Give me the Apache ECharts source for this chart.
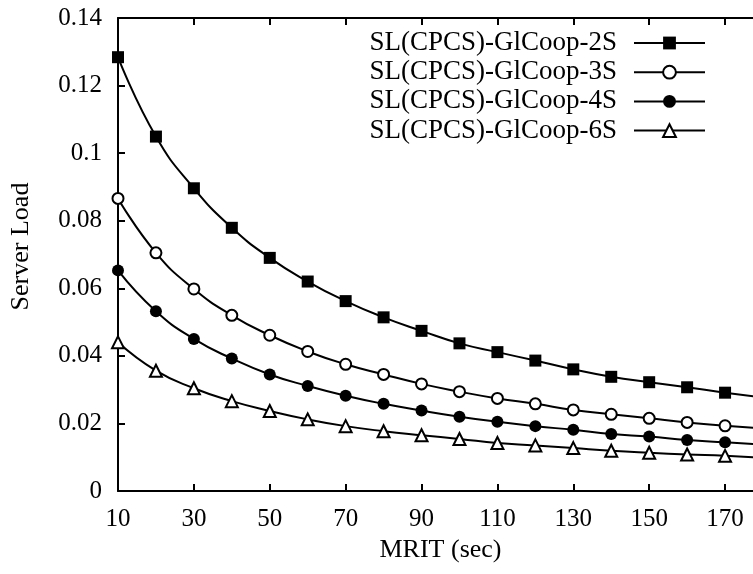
<!DOCTYPE html>
<html>
<head>
<meta charset="utf-8">
<script src="https://cdn.jsdelivr.net/npm/echarts@6/dist/echarts.min.js"></script>
<style>
html,body{margin:0;padding:0;background:#fff;}
#c{width:753px;height:574px;}
</style>
</head>
<body>
<div id="c"></div>
<script>
var mrit = [10,20,30,40,50,60,70,80,90,100,110,120,130,140,150,160,170,180];
var sl2S = [0.1284,0.1049,0.0896,0.0779,0.0690,0.0620,0.0562,0.0514,0.0474,0.0437,0.0411,0.0386,0.0360,0.0338,0.0322,0.0307,0.0291,0.0277];
var sl3S = [0.0866,0.0705,0.0598,0.0520,0.0461,0.0413,0.0375,0.0345,0.0317,0.0294,0.0274,0.0258,0.0240,0.0227,0.0215,0.0203,0.0193,0.0186];
var sl4S = [0.0653,0.0532,0.0450,0.0392,0.0345,0.0311,0.0282,0.0258,0.0238,0.0220,0.0205,0.0192,0.0181,0.0169,0.0161,0.0151,0.0144,0.0137];
var sl6S = [0.0440,0.0356,0.0304,0.0266,0.0237,0.0212,0.0192,0.0177,0.0165,0.0154,0.0142,0.0135,0.0127,0.0119,0.0113,0.0108,0.0104,0.0098];
var seriesNames = ['SL(CPCS)-GlCoop-2S','SL(CPCS)-GlCoop-3S','SL(CPCS)-GlCoop-4S','SL(CPCS)-GlCoop-6S'];
var yTicks = ['0','0.02','0.04','0.06','0.08','0.1','0.12','0.14'];

var FONT = 'Liberation Serif';
function pairs(arr){ return mrit.map(function(x,i){ return [x, arr[i]]; }); }
function mk(name, data, symbol, size){
  return {
    name: name, type: 'line', data: pairs(data),
    smooth: 0.5,
    symbol: symbol, symbolSize: size, showSymbol: true,
    lineStyle: {color: '#000', width: 2},
    itemStyle: {color: '#000', borderColor: '#000', borderWidth: (symbol.indexOf('empty') === 0 ? 2 : 0)},
    emphasis: {disabled: true},
    animation: false
  };
}
var chart = echarts.init(document.getElementById('c'), null, {renderer: 'canvas'});
chart.setOption({
  backgroundColor: '#fff',
  animation: false,
  textStyle: {fontFamily: FONT, color: '#000'},
  grid: {left: 118, top: 18, bottom: 83, right: -10, containLabel: false, outerBoundsMode: 'none'},
  legend: {
    orient: 'vertical', align: 'right', right: 42, top: 24.5,
    itemWidth: 71, itemHeight: 16, itemGap: 2.2,
    textStyle: {fontFamily: FONT, fontSize: 27, lineHeight: 22, color: '#000', padding: [0, 12, 0, 0]},
    data: seriesNames,
    selectedMode: false
  },
  xAxis: [{
    type: 'value', min: 10, max: 180, interval: 20,
    name: 'MRIT (sec)', nameLocation: 'middle', nameGap: 44,
    nameTextStyle: {fontFamily: FONT, fontSize: 26, color: '#000'},
    axisLine: {lineStyle: {color: '#000', width: 2}},
    axisTick: {inside: true, length: 7, lineStyle: {color: '#000', width: 2}},
    axisLabel: {fontFamily: FONT, fontSize: 25, color: '#000', margin: 16, showMaxLabel: false},
    splitLine: {show: false}
  },{
    type: 'value', min: 10, max: 180, interval: 20, position: 'top',
    axisLine: {lineStyle: {color: '#000', width: 2}},
    axisTick: {inside: true, length: 7, lineStyle: {color: '#000', width: 2}},
    axisLabel: {show: false},
    splitLine: {show: false}
  }],
  yAxis: {
    type: 'value', min: 0, max: 0.14, interval: 0.02,
    name: 'Server Load', nameLocation: 'middle', nameGap: 84,
    nameTextStyle: {fontFamily: FONT, fontSize: 26, color: '#000', padding: [0, 0, 0, 16]},
    axisLine: {show: true, lineStyle: {color: '#000', width: 2}},
    axisTick: {show: true, inside: true, length: 7, lineStyle: {color: '#000', width: 2}},
    axisLabel: {fontFamily: FONT, fontSize: 25, color: '#000', margin: 16,
      formatter: function(v){ var i = Math.round(v/0.02); return yTicks[i]; }},
    splitLine: {show: false}
  },
  series: [
    mk(seriesNames[0], sl2S, 'rect', 12),
    mk(seriesNames[1], sl3S, 'emptyCircle', 11),
    mk(seriesNames[2], sl4S, 'circle', 12),
    mk(seriesNames[3], sl6S, 'emptyTriangle', 12)
  ]
});
</script>
</body>
</html>
